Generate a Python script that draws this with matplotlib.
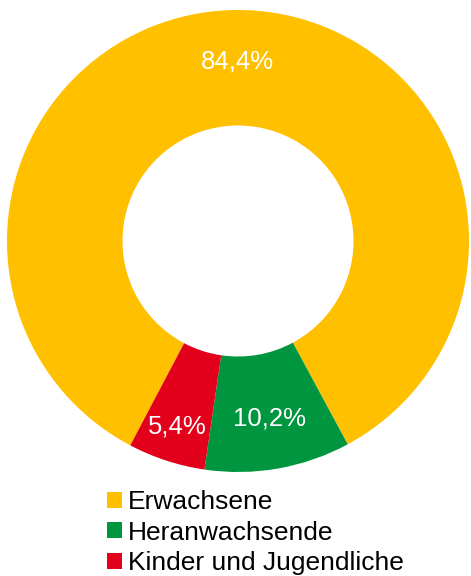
import matplotlib.pyplot as plt
import numpy as np

plt.rcParams['font.family'] = ['Liberation Sans', 'DejaVu Sans']

# Altersgruppen und Anteile in Prozent
groups = ['Erwachsene', 'Heranwachsende', 'Kinder und Jugendliche']
shares = [84.4, 10.2, 5.4]
colors = ['#FFC000', '#009640', '#E2001A']
label_radius = [0.775, 0.78, 0.845]

fig = plt.figure(figsize=(4.71, 5.76), dpi=100)
ax = fig.add_axes([7 / 471, (576 - 241 - 231) / 576, 462 / 471, 462 / 576])

wedges, _ = ax.pie(shares, colors=colors, radius=1.0, startangle=-117.8,
                   counterclock=False,
                   wedgeprops=dict(width=0.5, linewidth=0))
ax.set_xlim(-1, 1)
ax.set_ylim(-1, 1)
ax.set_aspect('equal')
ax.axis('off')

# Prozentwerte in der Mitte der Segmente
for w, val, r in zip(wedges, shares, label_radius):
    mid = np.deg2rad((w.theta1 + w.theta2) / 2)
    ax.text(r * np.cos(mid), r * np.sin(mid), f'{val:.1f}%'.replace('.', ','),
            color='white', fontsize=18.5, ha='center', va='center')

fig.legend(wedges, groups, loc='upper left', bbox_to_anchor=(107 / 471, 1 - 490 / 576),
           frameon=False, fontsize=19, handlelength=0.55, handleheight=0.55,
           handletextpad=0.25, labelspacing=0.25, borderpad=0, borderaxespad=0)

fig.savefig('out.png', dpi=100)
